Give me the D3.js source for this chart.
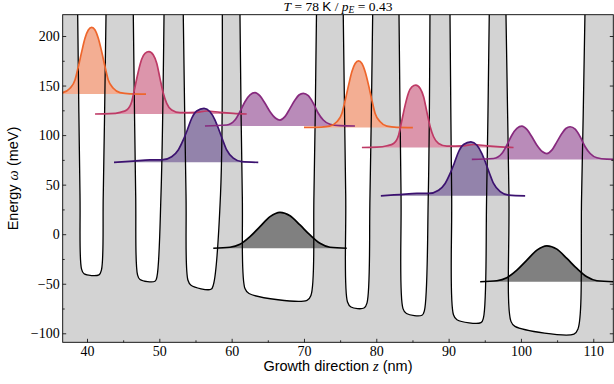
<!DOCTYPE html>
<html>
<head>
<meta charset="utf-8">
<script src="https://cdn.jsdelivr.net/npm/d3@7"></script>
<style>
  body { margin: 0; background: #fff; }
  svg { display: block; }
</style>
</head>
<body>
<svg id="chart" width="614" height="384"></svg>
<script>
// ---- values ----
const zDomain = [36.64, 112.77];   // growth direction (nm)
const eDomain = [-109.1, 221.5];   // energy (meV)
const zTicks = [40, 50, 60, 70, 80, 90, 100, 110];
const zMinorTicks = [45, 55, 65, 75, 85, 95, 105];
const eTicks = [-100, -50, 0, 50, 100, 150, 200];
const eMinorTicks = [-75, -25, 25, 75, 125, 175];

// quantum well outlines (z in nm, E in meV)
const wellLeftTop      = [38.71, 46.40, 53.31, 61.15, 75.43, 83.14, 90.19, 97.93];
const wellLeftMid      = [39.03, 46.73, 53.69, 61.47, 75.77, 83.42, 90.42, 98.34];
const wellLeftLow      = [39.24, 46.98, 53.96, 61.84, 76.02, 83.69, 90.67, 98.62];
const wellBottomLeftZ  = [39.59, 47.33, 54.38, 62.40, 76.50, 84.17, 91.15, 99.17];
const wellBottomRightZ = [41.66, 49.40, 57.14, 70.42, 78.30, 86.32, 94.47, 107.33];
const wellRightLow     = [42.00, 49.68, 57.49, 70.97, 78.71, 86.66, 94.82, 107.88];
const wellRightMid     = [42.25, 50.23, 58.46, 71.38, 79.13, 87.19, 95.26, 108.39];
const wellRightTop     = [42.63, 50.65, 58.71, 71.73, 79.50, 87.42, 95.62, 108.85];
const wellBottomLeftE  = [-40.0, -45.7, -51.5, -59.9, -73.5, -80.1, -86.3, -93.0];
const wellBottomRightE = [-41.0, -47.5, -55.6, -66.7, -74.5, -81.8, -89.2, -100.8];

// |psi|^2 curves, [z, E] pairs, and their energy levels
const orange1 = [[33.3,141.5],[35.5,141.9],[36.64,142.8],[37.65,147.2],[38.34,155.6],[38.80,169.0],[39.27,184.2],[39.72,197.7],[40.18,206.1],[40.65,208.8],[41.11,206.1],[41.56,197.7],[42.03,184.2],[42.49,169.0],[42.94,155.6],[43.64,147.2],[44.56,142.8],[45.95,141.6],[48.16,141.4]];
const crimson1 = [[41.11,121.3],[43.18,121.6],[44.6,123.0],[45.49,125.3],[46.18,133.7],[46.64,148.8],[47.09,164.0],[47.56,176.5],[48.02,182.5],[48.57,184.2],[49.17,180.8],[49.64,172.5],[50.09,157.3],[50.55,142.2],[51.02,132.1],[51.71,125.3],[52.86,122.6],[55.17,123.0],[56.55,124.3],[58.39,123.0],[60.23,122.0],[62.08,121.3]];
const indigo1 = [[43.73,72.5],[46.40,73.8],[48.71,74.9],[50.33,74.9],[51.71,78.2],[52.62,85.0],[53.31,95.1],[53.87,105.2],[54.48,117.0],[55.17,124.3],[56.18,127.0],[57.01,123.6],[57.70,115.2],[58.25,105.2],[58.76,95.1],[59.31,85.0],[60.23,76.7],[61.39,73.2],[63.68,72.5]];
const purple1 = [[56.31,109.2],[59.31,110.2],[60.46,115.2],[61.15,123.6],[61.84,133.7],[62.54,140.5],[63.23,142.8],[63.92,139.5],[64.61,132.1],[65.31,123.6],[66.09,117.0],[66.68,115.2],[67.37,118.6],[68.07,127.0],[68.76,135.4],[69.31,140.5],[69.90,142.2],[70.60,139.8],[71.29,132.1],[71.98,122.1],[72.67,115.2],[73.60,110.9],[74.98,109.5],[77.05,109.2]];
const ground1 = [[57.46,-14.2],[59.77,-13.2],[61.15,-10.2],[62.54,-2.5],[63.92,7.6],[65.31,17.7],[66.68,22.1],[68.07,18.7],[69.45,9.3],[70.83,-0.8],[72.21,-9.2],[73.60,-13.2],[75.91,-14.2]];
const orange2 = [[70.0,107.7],[72.4,108.1],[73.54,109.0],[74.55,113.4],[75.24,121.8],[75.70,135.2],[76.17,150.4],[76.62,163.9],[77.08,172.3],[77.55,175.0],[78.01,172.3],[78.46,163.9],[78.93,150.4],[79.39,135.2],[79.84,121.8],[80.54,113.4],[81.46,109.0],[82.85,107.8],[85.06,107.6]];
const crimson2 = [[78.01,87.5],[80.08,87.8],[81.5,89.2],[82.39,91.5],[83.08,99.9],[83.54,115.0],[83.99,130.2],[84.46,142.7],[84.92,148.7],[85.47,150.4],[86.07,147.0],[86.54,138.7],[86.99,123.5],[87.45,108.4],[87.92,98.3],[88.61,91.5],[89.76,88.8],[92.07,89.2],[93.45,90.5],[95.29,89.2],[97.13,88.2],[98.98,87.5]];
const indigo2 = [[80.63,38.7],[83.30,40.0],[85.61,41.1],[87.23,41.1],[88.61,44.4],[89.52,51.2],[90.21,61.3],[90.77,71.4],[91.38,83.2],[92.07,90.5],[93.08,93.2],[93.91,89.8],[94.60,81.4],[95.15,71.4],[95.66,61.3],[96.21,51.2],[97.13,42.9],[98.29,39.4],[100.58,38.7]];
const purple2 = [[93.21,75.4],[96.21,76.4],[97.36,81.4],[98.05,89.8],[98.74,99.9],[99.44,106.7],[100.13,109.0],[100.82,105.7],[101.51,98.3],[102.21,89.8],[102.99,83.2],[103.58,81.4],[104.27,84.8],[104.97,93.2],[105.66,101.6],[106.21,106.7],[106.80,108.4],[107.50,106.0],[108.19,98.3],[108.88,88.3],[109.57,81.4],[110.50,77.1],[111.88,75.7],[113.95,75.4]];
const ground2 = [[94.36,-48.0],[96.67,-47.0],[98.05,-44.0],[99.44,-36.3],[100.82,-26.2],[102.21,-16.1],[103.58,-11.7],[104.97,-15.1],[106.35,-24.5],[107.73,-34.6],[109.11,-43.0],[110.50,-47.0],[112.81,-48.0]];
const levelEnergies = [141.5, 121.3, 72.5, 109.2, -14.2, 107.7, 87.5, 38.7, 75.4, -48.0];

// ---- styling ----
const palette = {
  orange:  { line: '#ee662c', fill: '#f3ae93' },
  crimson: { line: '#be3a66', fill: '#dc95ab' },
  purple:  { line: '#872a7e', fill: '#b98bb9' },
  indigo:  { line: '#3c1270', fill: '#9383ab' },
  ground:  { line: '#000000', fill: '#808080' }
};

const states = [
  { pts: orange1,  base: levelEnergies[0], c: palette.orange },
  { pts: crimson1, base: levelEnergies[1], c: palette.crimson },
  { pts: indigo1,  base: levelEnergies[2], c: palette.indigo },
  { pts: purple1,  base: levelEnergies[3], c: palette.purple },
  { pts: ground1,  base: levelEnergies[4], c: palette.ground },
  { pts: orange2,  base: levelEnergies[5], c: palette.orange },
  { pts: crimson2, base: levelEnergies[6], c: palette.crimson },
  { pts: indigo2,  base: levelEnergies[7], c: palette.indigo },
  { pts: purple2,  base: levelEnergies[8], c: palette.purple },
  { pts: ground2,  base: levelEnergies[9], c: palette.ground }
];

const margin = { top: 14.7, right: 0.7, bottom: 41.7, left: 62.7 };
const W = 614, H = 384;
const width = W - margin.left - margin.right;
const height = H - margin.top - margin.bottom;

const svg = d3.select('#chart');
const g = svg.append('g').attr('transform', `translate(${margin.left},${margin.top})`);

const x = d3.scaleLinear().domain(zDomain).range([0, width]);
const y = d3.scaleLinear().domain(eDomain).range([height, 0]);

svg.append('defs').append('clipPath').attr('id', 'plotClip')
  .append('rect').attr('width', width).attr('height', height);

const plot = g.append('g').attr('clip-path', 'url(#plotClip)');

// barrier material background
plot.append('rect').attr('width', width).attr('height', height).attr('fill', '#d3d3d3');

// well outlines built from the arrays above
const topE = eDomain[1] + 0.5;
const wells = wellLeftTop.map((_, i) => [
  [wellLeftTop[i], topE],
  [wellLeftMid[i], 40],
  [wellLeftLow[i], wellBottomLeftE[i] + 5],
  [wellBottomLeftZ[i], wellBottomLeftE[i]],
  [wellBottomRightZ[i], wellBottomRightE[i]],
  [wellRightLow[i], wellBottomRightE[i] + 5],
  [wellRightMid[i], 40],
  [wellRightTop[i], topE]
]);

const wellLine = d3.line()
  .x(d => x(d[0])).y(d => y(d[1]))
  .curve(d3.curveCatmullRom.alpha(0.5));

plot.selectAll('.well-fill')
  .data(wells)
  .enter().append('path')
  .attr('class', 'well-fill')
  .attr('d', d => wellLine(d) + 'Z')
  .attr('fill', '#ffffff');

// probability densities, filled down to their level
const area = d3.area()
  .x(d => x(d[0]))
  .y1(d => y(d[1]))
  .curve(d3.curveMonotoneX);

plot.selectAll('.state-fill')
  .data(states)
  .enter().append('path')
  .attr('class', 'state-fill')
  .attr('d', s => area.y0(y(s.base))(s.pts))
  .attr('fill', s => s.c.fill);

plot.selectAll('.well-line')
  .data(wells)
  .enter().append('path')
  .attr('class', 'well-line')
  .attr('d', d => wellLine(d))
  .attr('fill', 'none')
  .attr('stroke', '#000')
  .attr('stroke-width', 1.3);

const stateLine = d3.line()
  .x(d => x(d[0])).y(d => y(d[1]))
  .curve(d3.curveMonotoneX);

plot.selectAll('.state-line')
  .data(states)
  .enter().append('path')
  .attr('class', 'state-line')
  .attr('d', s => stateLine(s.pts))
  .attr('fill', 'none')
  .attr('stroke', s => s.c.line)
  .attr('stroke-width', 1.7);

// ---- axes, ticks pointing inward ----
const fmt = d3.format('d');
const tickFont = '"Liberation Serif", "DejaVu Serif", serif';

g.append('g').attr('transform', `translate(0,${height})`)
  .call(d3.axisBottom(x).tickValues(zTicks).tickFormat(fmt).tickSize(-3.5).tickPadding(3.5));
g.append('g').attr('transform', `translate(0,${height})`)
  .call(d3.axisBottom(x).tickValues(zMinorTicks).tickFormat('').tickSize(-2));

g.append('g')
  .call(d3.axisLeft(y).tickValues(eTicks).tickFormat(fmt).tickSize(-3.5).tickPadding(3));
g.append('g')
  .call(d3.axisLeft(y).tickValues(eMinorTicks).tickFormat('').tickSize(-2));

g.append('g').attr('transform', `translate(${width},0)`)
  .call(d3.axisRight(y).tickValues(eTicks).tickFormat('').tickSize(-3.5));
g.append('g').attr('transform', `translate(${width},0)`)
  .call(d3.axisRight(y).tickValues(eMinorTicks).tickFormat('').tickSize(-2));

g.selectAll('.domain').remove();
g.selectAll('.tick line').attr('stroke', '#000').attr('stroke-width', 0.8);
g.selectAll('.tick text')
  .attr('fill', '#000')
  .style('font-family', tickFont)
  .style('font-size', '14px');

// frame
g.append('rect')
  .attr('width', width).attr('height', height)
  .attr('fill', 'none').attr('stroke', '#000').attr('stroke-width', 0.9);

// axis labels
const labelFont = '"Liberation Sans", "DejaVu Sans", sans-serif';
const xLabel = svg.append('text')
  .attr('x', margin.left + width / 2)
  .attr('y', 371)
  .attr('text-anchor', 'middle')
  .style('font-family', labelFont)
  .style('font-size', '14.5px');
xLabel.append('tspan').text('Growth direction ');
xLabel.append('tspan').style('font-family', tickFont).style('font-style', 'italic').text('z');
xLabel.append('tspan').text(' (nm)');

const yLabel = svg.append('text')
  .attr('transform', `translate(18,${margin.top + height / 2}) rotate(-90)`)
  .attr('text-anchor', 'middle')
  .style('font-family', labelFont)
  .style('font-size', '14.5px');
yLabel.append('tspan').text('Energy ');
yLabel.append('tspan').style('font-family', tickFont).style('font-style', 'italic').text('\u03c9');
yLabel.append('tspan').text(' (meV)');

// title
const title = svg.append('text')
  .attr('x', margin.left + width / 2)
  .attr('y', 10.5)
  .attr('text-anchor', 'middle')
  .style('font-family', tickFont)
  .style('font-size', '13.5px');
title.append('tspan').style('font-style', 'italic').text('T');
title.append('tspan').text(' = 78 ');
title.append('tspan').style('font-family', labelFont).text('K');
title.append('tspan').text(' / ');
title.append('tspan').style('font-style', 'italic').text('p');
title.append('tspan').style('font-style', 'italic').style('font-size', '9.5px').attr('dy', 2).text('E');
title.append('tspan').attr('dy', -2).text(' = 0.43');
</script>
</body>
</html>
